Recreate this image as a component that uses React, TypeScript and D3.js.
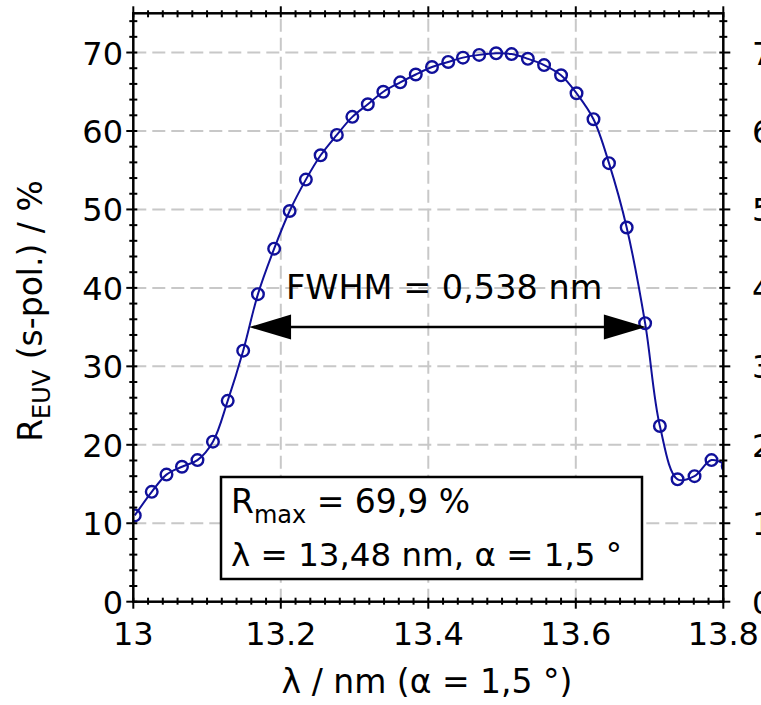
import React from "react";
import * as d3 from "d3";

const wavelength = [13.002, 13.025, 13.045, 13.066, 13.087, 13.108, 13.128, 13.149, 13.169, 13.191, 13.212, 13.234, 13.254, 13.276, 13.297, 13.318, 13.339, 13.362, 13.383, 13.405, 13.427, 13.447, 13.469, 13.492, 13.513, 13.535, 13.557, 13.58, 13.601, 13.624, 13.645, 13.669, 13.694, 13.714, 13.738, 13.761, 13.784, 13.806];
const reflectance = [11.0, 14.0, 16.2, 17.2, 18.05, 20.4, 25.6, 32.0, 39.2, 45.0, 49.8, 53.8, 56.9, 59.5, 61.8, 63.4, 65.0, 66.2, 67.2, 68.15, 68.8, 69.35, 69.7, 69.9, 69.8, 69.2, 68.4, 67.1, 64.8, 61.5, 55.9, 47.7, 35.5, 22.4, 15.6, 16.0, 18.05, 17.3];
const xTicks = [13, 13.2, 13.4, 13.6, 13.8];
const xTickLabels = ["13", "13.2", "13.4", "13.6", "13.8"];
const yTicks = [0, 10, 20, 30, 40, 50, 60, 70];
const fwhmRange = [13.157, 13.695];
const fwhmLevel = 35;

const W = 761, H = 705;
const L = 133.3, R = 723.3, T = 13.3, B = 601.7;
const FONT = "'DejaVu Sans', Verdana, sans-serif";
const BLUE = "#10109a";

export default function App() {
  const x = d3.scaleLinear().domain([13, 13.8]).range([L, R]);
  const y = d3.scaleLinear().domain([0, 75]).range([B, T]);
  const pts = wavelength.map((w, i) => [w, reflectance[i]] as [number, number]);
  const line = d3.line<[number, number]>().x(d => x(d[0])).y(d => y(d[1])).curve(d3.curveCatmullRom.alpha(0.5));
  const xMinor = d3.range(0, 41).map(i => 13 + i * 0.02);
  const yMinor = d3.range(0, 38).map(i => i * 2).filter(v => v <= 75);
  const ay = y(fwhmLevel);
  const x1 = x(fwhmRange[0]), x2 = x(fwhmRange[1]);
  const ahL = 42, ahH = 12.5;
  return (
    <svg width={W} height={H} style={{ position: "absolute", left: 0, top: 0, background: "#fff" }} fontFamily={FONT}>
      <defs>
        <clipPath id="plot"><rect x={L} y={T} width={R - L} height={B - T} /></clipPath>
      </defs>
      <rect x={0} y={0} width={W} height={H} fill="#fff" />
      {/* grid */}
      <g stroke="#c8c8c8" strokeWidth={2} strokeDasharray="13,6">
        {xTicks.slice(1, -1).map(t => <line key={"gx" + t} x1={x(t)} x2={x(t)} y1={B} y2={T} />)}
        {yTicks.slice(1).map(t => <line key={"gy" + t} x1={L} x2={R} y1={y(t)} y2={y(t)} />)}
      </g>
      {/* curve */}
      <g clipPath="url(#plot)">
        <path d={line(pts) || ""} fill="none" stroke={BLUE} strokeWidth={2} />
        {pts.map((p, i) => <circle key={i} cx={x(p[0])} cy={y(p[1])} r={5.8} fill="none" stroke={BLUE} strokeWidth={2.4} />)}
      </g>
      {/* FWHM arrow */}
      <line x1={x1 + ahL - 2} x2={x2 - ahL + 2} y1={ay} y2={ay} stroke="#000" strokeWidth={2.5} />
      <path d={`M${x1},${ay} L${x1 + ahL},${ay - ahH} L${x1 + ahL},${ay + ahH} Z`} fill="#000" />
      <path d={`M${x2},${ay} L${x2 - ahL},${ay - ahH} L${x2 - ahL},${ay + ahH} Z`} fill="#000" />
      <text x={286} y={299} fontSize={33.5}>FWHM = 0,538 nm</text>
      {/* info box */}
      <rect x={221} y={477} width={421} height={102} fill="#fff" stroke="#000" strokeWidth={2.5} />
      <text x={231} y={513} fontSize={33}>
        R<tspan fontSize={24} dy={10}>max</tspan><tspan dy={-10}> = 69,9  %</tspan>
      </text>
      <text x={231} y={566} fontSize={32.5}>λ = 13,48 nm, α = 1,5 °</text>
      {/* frame */}
      <rect x={L} y={T} width={R - L} height={B - T} fill="none" stroke="#000" strokeWidth={2.5} />
      {/* ticks */}
      <g stroke="#000" strokeWidth={2}>
        {xMinor.map((t, i) => {
          const major = i % 10 === 0;
          return (
            <g key={"xt" + i}>
              <line x1={x(t)} x2={x(t)} y1={B - 4} y2={B + (major ? 7 : 3)} />
              <line x1={x(t)} x2={x(t)} y1={T + 4} y2={T - (major ? 7 : 3)} />
            </g>
          );
        })}
        {yMinor.map((t, i) => {
          const major = t % 10 === 0;
          return (
            <g key={"yt" + i}>
              <line x1={L - (major ? 7 : 4)} x2={L + 4} y1={y(t)} y2={y(t)} />
              <line x1={R + (major ? 7 : 4)} x2={R - 4} y1={y(t)} y2={y(t)} />
            </g>
          );
        })}
      </g>
      {/* tick labels */}
      <g fontSize={32} fill="#000">
        {xTicks.map((t, i) => <text key={"xl" + t} x={x(t)} y={645} textAnchor="middle">{xTickLabels[i]}</text>)}
        {yTicks.map(t => <text key={"yl" + t} x={123} y={y(t) + 12} textAnchor="end">{t}</text>)}
        {yTicks.map(t => <text key={"yr" + t} x={752} y={y(t) + 12} textAnchor="start">{t}</text>)}
      </g>
      {/* axis titles */}
      <text x={427} y={693} fontSize={33} textAnchor="middle">λ / nm (α = 1,5 °)</text>
      <text transform="translate(42,311) rotate(-90)" fontSize={33} textAnchor="middle">
        R<tspan fontSize={24} dy={8}>EUV</tspan><tspan dy={-8}> (s-pol.) / %</tspan>
      </text>
    </svg>
  );
}
